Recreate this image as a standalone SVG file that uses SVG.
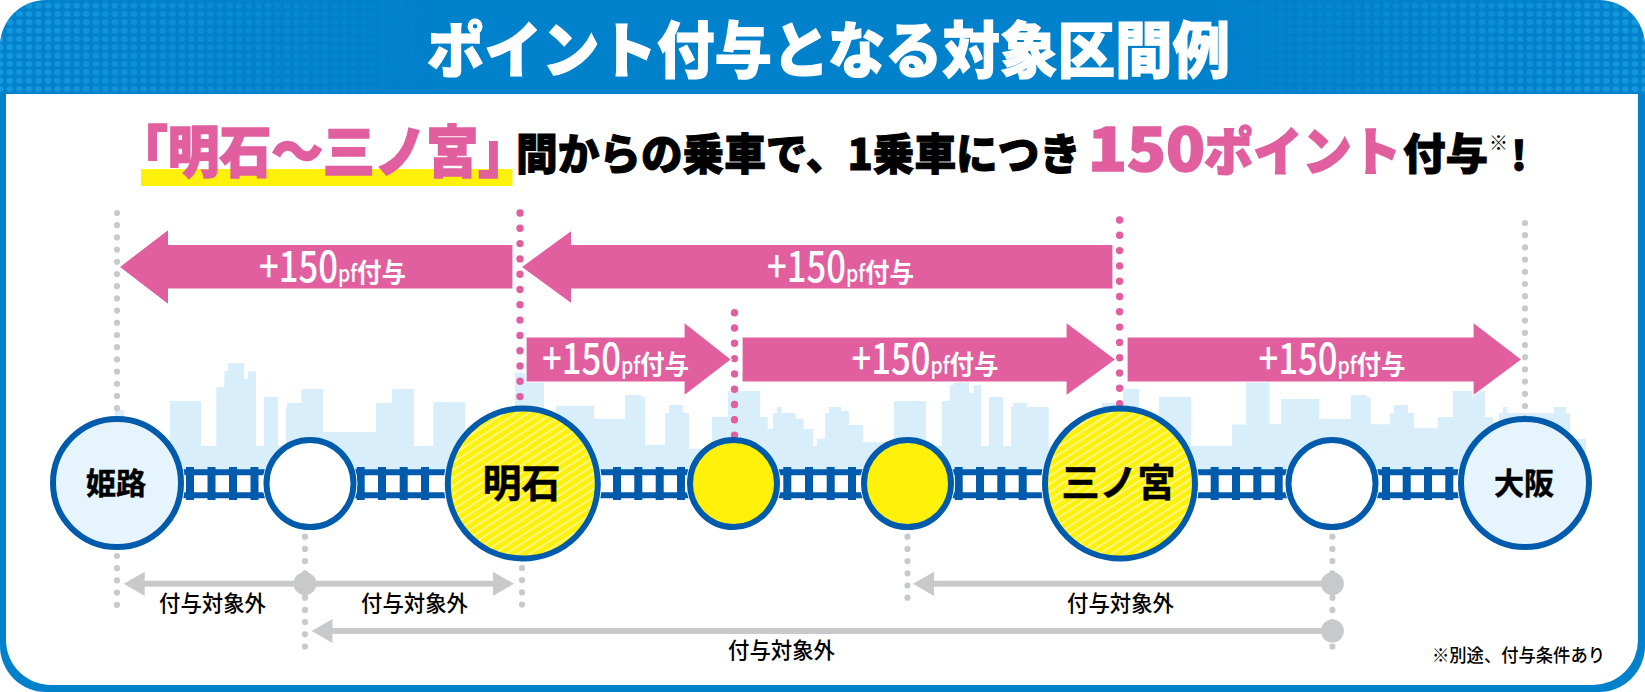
<svg xmlns="http://www.w3.org/2000/svg" width="1645" height="692" viewBox="0 0 1645 692">
<style>
text{font-family:"Noto Sans CJK JP","Noto Sans",sans-serif}
.rg{stroke:#005bac;stroke-width:6}
.lb{fill:#e6f4fd}.wh{fill:#fff}.ye{fill:#fff10a}.ha{fill:url(#hatch)}
.st{font-weight:700;fill:#000;text-anchor:middle;stroke:#000;stroke-width:.5}
.ar{fill:#e15f9f;stroke:#fff;stroke-width:1.2}
.gy{fill:#c8c9ca}
.dg{fill:none;stroke:#c8c9ca;stroke-width:6.2;stroke-linecap:round;stroke-dasharray:0 12.2}
.dp{fill:none;stroke:#e15f9f;stroke-width:7.4;stroke-linecap:round;stroke-dasharray:0 15.3}
.pt{fill:#fff;font-weight:500}
.j{font-weight:700}
.off{fill:#000;font-size:22px;font-weight:500}
.bk{fill:#000;font-weight:900;stroke:#000;stroke-width:1}
.pk{fill:#e15f9f;font-weight:900;stroke:#e15f9f;stroke-width:1.6}
</style>
<defs>
<pattern id="dots" width="9.56" height="8.33" patternUnits="userSpaceOnUse" x="5" y="1.5"><ellipse cx="4.8" cy="4.2" rx="3.4" ry="3" fill="#1ea1e3"/></pattern>
<linearGradient id="fade"><stop offset="0" stop-color="#fff" stop-opacity=".72"/><stop offset=".27" stop-color="#fff" stop-opacity="0"/><stop offset=".73" stop-color="#fff" stop-opacity="0"/><stop offset="1" stop-color="#fff" stop-opacity=".72"/></linearGradient>
<mask id="dm" maskUnits="userSpaceOnUse" x="0" y="0" width="1645" height="94"><rect width="1645" height="94" fill="url(#fade)"/></mask>
<pattern id="hatch" width="8" height="6.6" patternUnits="userSpaceOnUse" patternTransform="rotate(-33)"><rect width="8" height="6.6" fill="#fff10a"/><rect width="8" height="1.5" fill="#fff9a3"/></pattern>
<clipPath id="band"><rect x="0" y="467" width="1645" height="33"/></clipPath>
</defs>

<rect width="1645" height="692" rx="46" fill="#0081cc"/>
<path d="M6 94H1638V640a45 45 0 0 1-45 45H51a45 45 0 0 1-45-45Z" fill="#fff"/>
<path d="M46 0H1599a46 46 0 0 1 46 46V94H0V46A46 46 0 0 1 46 0Z" fill="url(#dots)" mask="url(#dm)"/>
<text x="427" y="73" font-size="61" font-weight="900" fill="#fff" stroke="#fff" stroke-width="1.2" textLength="803" lengthAdjust="spacingAndGlyphs">ポイント付与となる対象区間例</text>

<rect x="141" y="169" width="371.500" height="17" fill="#fff10a"/>
<text class="pk" x="116" y="172" font-size="56" textLength="414" lengthAdjust="spacingAndGlyphs">「明石〜三ノ宮」</text>
<text class="bk" x="516" y="170" font-size="43" textLength="565" lengthAdjust="spacingAndGlyphs">間からの乗車で、1乗車につき</text>
<text class="pk" x="1088" y="171" font-size="60" textLength="117" lengthAdjust="spacingAndGlyphs">150</text>
<text class="pk" x="1204" y="171" font-size="52" textLength="197" lengthAdjust="spacingAndGlyphs">ポイント</text>
<text class="bk" x="1403" y="170" font-size="43" textLength="85" lengthAdjust="spacingAndGlyphs">付与</text>
<text class="bk" style="stroke-width:0" x="1489" y="150" font-size="19">※</text>
<text class="bk" x="1511" y="170" font-size="40">!</text>

<polygon fill="#d9eefb" points="115,470 115,410 124,410 124,446 170,446 170,401 201,401 201,446 216.300,446 216.300,387 224.300,387 224.300,371.300 228,371.300 228,363.300 244,363.300 244,378.700 248,378.700 248,371.300 256,371.300 256,446 264,446 264,397 278,397 278,446 285.700,446 285.700,407 287,407 287,403 301.300,403 301.300,389 323,389 323,432 376,432 376,403 392,403 392,389 414,389 414,446 433.300,446 433.300,402 465.300,402 465.300,446 515,446 515,373 544,373 544,446 556,446 556,405.700 594,405.700 594,419 625,419 625,395 641.700,395 641.700,397 645,397 645,444.700 665,444.700 665,413 669,413 669,405 683,405 683,413 689,413 689,448.700 712,448.700 712,417 728,417 728,391 760,391 760,417 767.700,417 767.700,429 773,429 773,413 777,413 777,407 781.700,407 781.700,413 795.700,413 795.700,419 803.700,419 803.700,429 813,429 813,446 817,446 817,438.700 825,438.700 825,413 829,413 829,407 841,407 841,411 849,411 849,425 863,425 863,442 894,442 894,401 926,401 926,446 941.700,446 941.700,401 949.700,401 949.700,385 953.700,385 953.700,382 969,382 969,393 973.700,393 973.700,385 981,385 981,446 989,446 989,397 1003,397 1003,446 1011,446 1011,407 1013,407 1013,403 1027,403 1027,407 1048.700,407 1048.700,446 1101.600,446 1101.600,403 1123,403 1123,389 1139,389 1139,446 1159,446 1159,397 1191,397 1191,446 1232,446 1232,424.500 1246,424.500 1246,382 1269.700,382 1269.700,424 1281,424 1281,399 1319,399 1319,419 1350.700,419 1350.700,395 1366.700,395 1366.700,397 1370.700,397 1370.700,424.300 1390,424.300 1390,413 1394,413 1394,405 1408,405 1408,413 1414,413 1414,428.300 1437.700,428.300 1437.700,417 1453,417 1453,391 1485,391 1485,417 1493,417 1493,421.700 1499,421.700 1499,413 1503,413 1503,407 1507,407 1507,413 1550,413 1554,413 1554,407 1566,407 1566,413 1570,413 1570,438.700 1586,438.700 1586,470"/>

<g id="connectors">
<g id="guides">
<path class="dg" d="M117 213V420"/><path class="dg" d="M1525 223V420"/>
<path class="dp" d="M520 213V410"/><path class="dp" d="M734.500 312.700V440"/><path class="dp" d="M1119.600 220V410"/>
<path class="dg" d="M117 556V606"/><path class="dg" d="M522 568V606"/><path class="dg" d="M305 536.700V647"/><path class="dg" d="M907.500 536.700V606"/><path class="dg" d="M1332.400 536.700V647"/>
</g>
<g id="point-arrows">
<polygon class="ar" points="119,267 168.600,229 168.600,244.300 513,244.300 513,289 168.600,289 168.600,305"/>
<polygon class="ar" points="521,267 571.600,230 571.600,244.300 1113,244.300 1113,289 571.600,289 571.600,304"/>
<polygon class="ar" points="526,337 684,337 684,322 731.600,359.500 684,396 684,382 526,382"/>
<polygon class="ar" points="742,337 1066,337 1066,322 1116,359.500 1066,396 1066,382 742,382"/>
<polygon class="ar" points="1127,337 1473,337 1473,322 1522,359.500 1473,396 1473,382 1127,382"/>
</g>
<g id="track" fill="none" stroke="#005bac">
<path stroke-width="6" d="M117 472.300H1525M117 495.300H1525"/>
<path stroke-width="8" d="M190 467V500M211.500 467V500M233 467V500M254.500 467V500M360.700 467V500M382 467V500M403.700 467V500M425 467V500M617 467V500M638.300 467V500M659.700 467V500M681 467V500M787.300 467V500M809 467V500M830.700 467V500M852 467V500M958.700 467V500M980 467V500M1001.300 467V500M1022.700 467V500M1214.700 467V500M1236 467V500M1257.300 467V500M1278.700 467V500M1386 467V500M1406.700 467V500M1428 467V500M1449.300 467V500"/>
</g>
<g id="excluded-arrows">
<rect class="gy" x="140" y="580.700" width="360" height="6"/>
<polygon class="gy" points="123.800,583.700 144.700,571.700 144.700,596"/>
<polygon class="gy" points="514,583.700 493,571.700 493,596"/>
<circle class="gy" cx="305" cy="583.700" r="11.500"/>
<rect class="gy" x="930" y="580.700" width="402" height="6"/>
<polygon class="gy" points="913,583.700 934,571.700 934,596"/>
<circle class="gy" cx="1332.400" cy="583.700" r="11.500"/>
<rect class="gy" x="328" y="628" width="1004" height="6"/>
<polygon class="gy" points="311.600,631 332.500,619 332.500,643"/>
<circle class="gy" cx="1332.400" cy="631" r="11.500"/>
</g>
</g>

<g clip-path="url(#band)" fill="#fff">
<circle cx="117" cy="483" r="68"/><circle cx="310" cy="483.500" r="47.500"/><circle cx="522.800" cy="483.500" r="79"/><circle cx="733.500" cy="483.500" r="47.500"/><circle cx="907.500" cy="483.500" r="47.500"/><circle cx="1120" cy="483.500" r="79"/><circle cx="1332" cy="483.500" r="47.500"/><circle cx="1525" cy="483" r="68"/>
</g>

<g id="himeji"><circle class="lb rg" cx="117" cy="483" r="64"/><text class="st" x="116" y="494" font-size="30">姫路</text></g>
<g id="station-2"><circle class="wh rg" cx="310" cy="483.500" r="43.500"/></g>
<g id="akashi"><circle class="ha rg" cx="522.800" cy="483.500" r="75"/><text class="st" x="521.500" y="497" font-size="39">明石</text></g>
<g id="station-4"><circle class="ye rg" cx="733.500" cy="483.500" r="43.500"/></g>
<g id="station-5"><circle class="ye rg" cx="907.500" cy="483.500" r="43.500"/></g>
<g id="sannomiya"><circle class="ha rg" cx="1120" cy="483.500" r="75"/><text class="st" x="1118.500" y="496" font-size="38">三ノ宮</text></g>
<g id="station-7"><circle class="wh rg" cx="1332" cy="483.500" r="43.500"/></g>
<g id="osaka"><circle class="lb rg" cx="1525" cy="483" r="64"/><text class="st" x="1524" y="494" font-size="30">大阪</text></g>

<g id="point-labels">
<text class="pt" x="259" y="281.700"><tspan font-size="43" textLength="79" lengthAdjust="spacingAndGlyphs">+150</tspan><tspan font-size="23" textLength="19" lengthAdjust="spacingAndGlyphs">pf</tspan><tspan class="j" font-size="26" textLength="49" lengthAdjust="spacingAndGlyphs">付与</tspan></text>
<text class="pt" x="767" y="281.700"><tspan font-size="43" textLength="79" lengthAdjust="spacingAndGlyphs">+150</tspan><tspan font-size="23" textLength="19" lengthAdjust="spacingAndGlyphs">pf</tspan><tspan class="j" font-size="26" textLength="49" lengthAdjust="spacingAndGlyphs">付与</tspan></text>
<text class="pt" x="542" y="373.500"><tspan font-size="43" textLength="79" lengthAdjust="spacingAndGlyphs">+150</tspan><tspan font-size="23" textLength="19" lengthAdjust="spacingAndGlyphs">pf</tspan><tspan class="j" font-size="26" textLength="49" lengthAdjust="spacingAndGlyphs">付与</tspan></text>
<text class="pt" x="851.500" y="373.500"><tspan font-size="43" textLength="79" lengthAdjust="spacingAndGlyphs">+150</tspan><tspan font-size="23" textLength="19" lengthAdjust="spacingAndGlyphs">pf</tspan><tspan class="j" font-size="26" textLength="49" lengthAdjust="spacingAndGlyphs">付与</tspan></text>
<text class="pt" x="1258.500" y="373.500"><tspan font-size="43" textLength="79" lengthAdjust="spacingAndGlyphs">+150</tspan><tspan font-size="23" textLength="19" lengthAdjust="spacingAndGlyphs">pf</tspan><tspan class="j" font-size="26" textLength="49" lengthAdjust="spacingAndGlyphs">付与</tspan></text>
</g>
<g id="excluded-labels">
<text class="off" x="159" y="611" textLength="107" lengthAdjust="spacingAndGlyphs">付与対象外</text>
<text class="off" x="361" y="611" textLength="107" lengthAdjust="spacingAndGlyphs">付与対象外</text>
<text class="off" x="1067" y="611" textLength="107" lengthAdjust="spacingAndGlyphs">付与対象外</text>
<text class="off" x="728" y="658" textLength="107" lengthAdjust="spacingAndGlyphs">付与対象外</text>
</g>
<text x="1432" y="661.500" font-size="18" font-weight="500" fill="#000" textLength="173" lengthAdjust="spacingAndGlyphs">※別途、付与条件あり</text>
</svg>
